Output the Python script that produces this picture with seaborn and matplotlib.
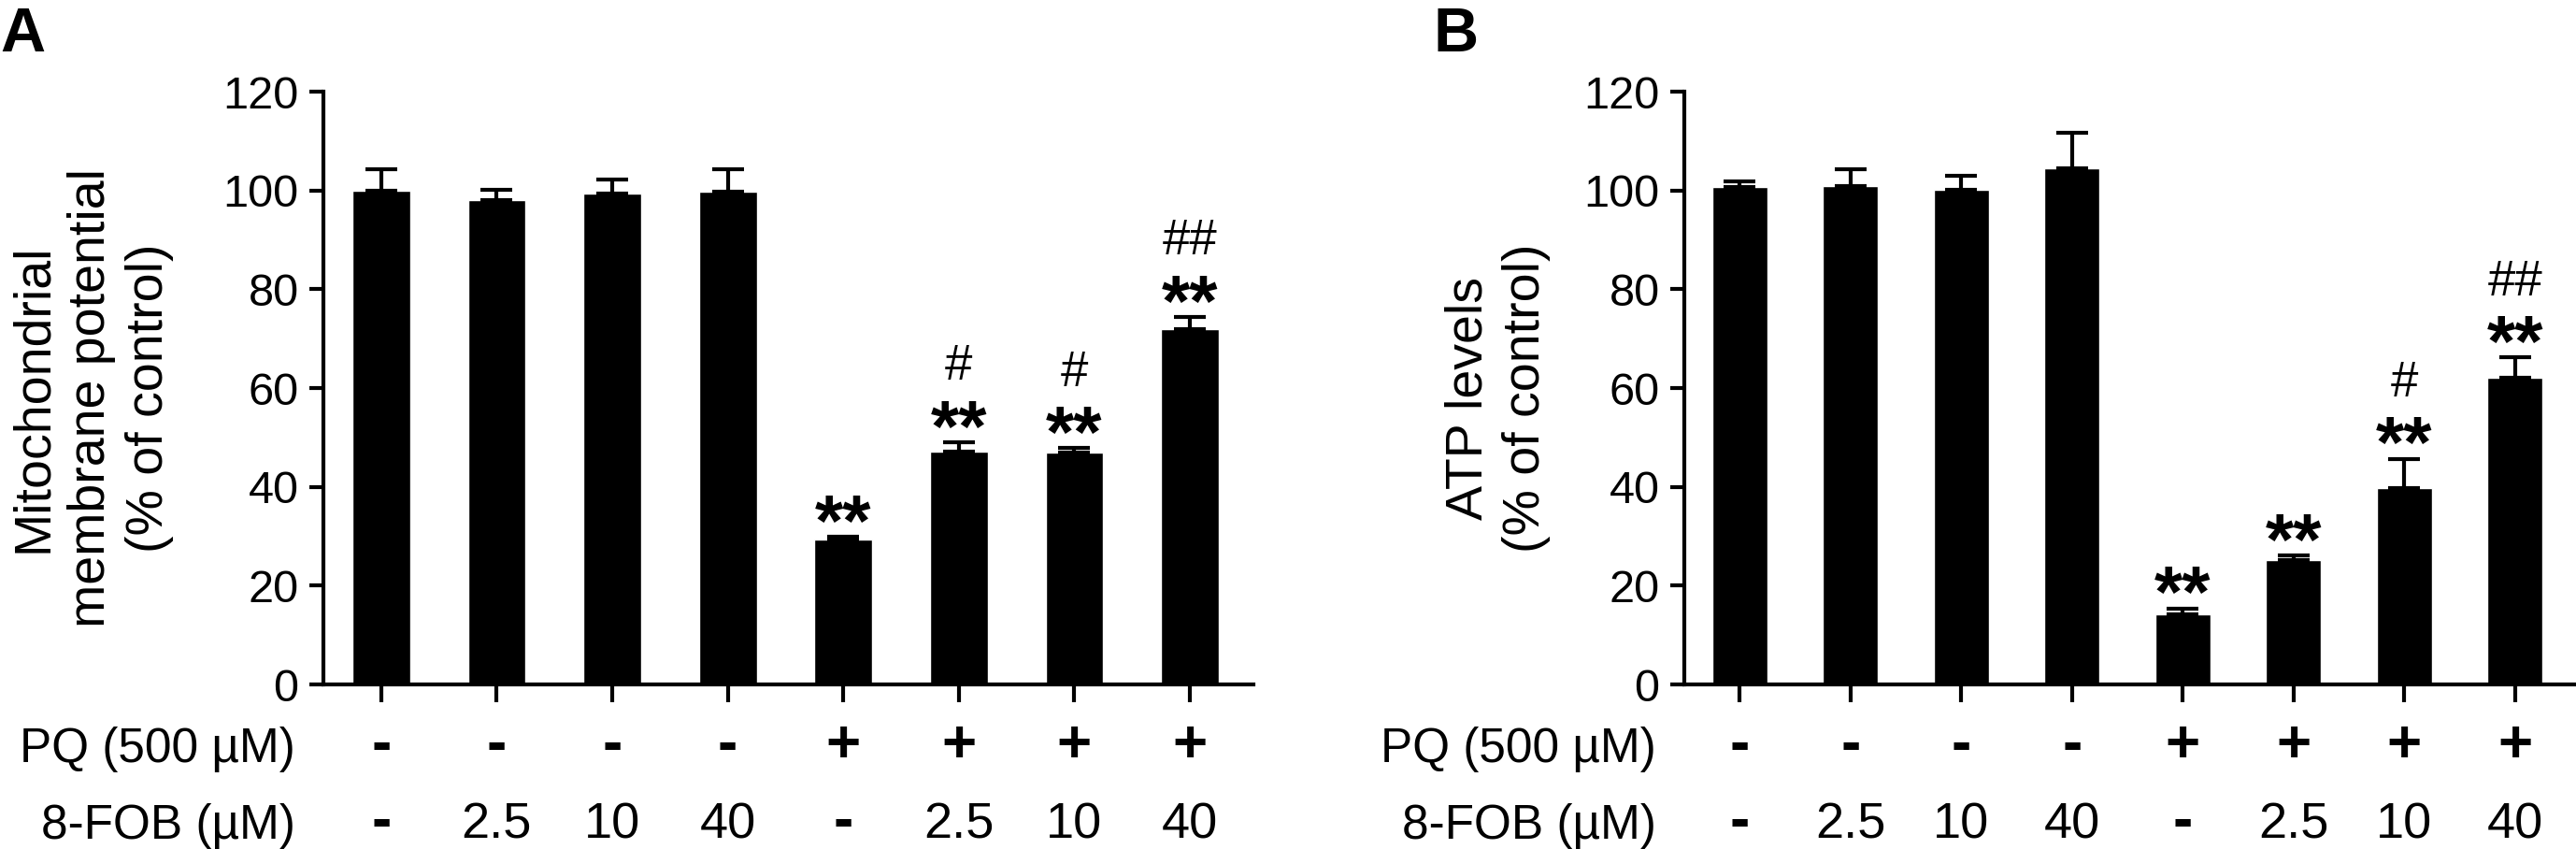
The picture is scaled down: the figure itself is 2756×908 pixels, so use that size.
import numpy as np
import pandas as pd
import matplotlib
matplotlib.use("Agg")
import matplotlib.pyplot as plt
import seaborn as sns

# group labels shown under the bars
pq_row = ["-", "-", "-", "-", "+", "+", "+", "+"]
fob_row = ["-", "2.5", "10", "40", "-", "2.5", "10", "40"]

# panel A: mitochondrial membrane potential (% of control)
mmp_mean = [99.9, 98.0, 99.3, 99.8, 29.3, 47.1, 46.9, 72.0]
mmp_sem = [4.4, 2.1, 2.9, 4.4, 0.6, 1.9, 0.9, 2.4]
mmp_stars = ["", "", "", "", "**", "**", "**", "**"]
mmp_hash = ["", "", "", "", "", "#", "#", "##"]

# panel B: ATP levels (% of control)
atp_mean = [100.6, 100.9, 100.1, 104.5, 14.2, 25.1, 39.7, 62.0]
atp_sem = [1.3, 3.4, 2.8, 7.2, 1.2, 1.0, 6.0, 4.2]
atp_stars = ["", "", "", "", "**", "**", "**", "**"]
atp_hash = ["", "", "", "", "", "", "#", "##"]

sns.set_style("ticks")
plt.rcParams["font.family"] = ["Liberation Sans", "DejaVu Sans"]
plt.rcParams["text.color"] = "black"
plt.rcParams["axes.labelcolor"] = "black"


def row_text(ax, i, y, s):
    # +/- signs are drawn heavier than the numbers
    if s in ("+", "-"):
        ax.text(i, y, s, transform=ax.get_xaxis_transform(), ha="center",
                va="baseline", fontsize=46, fontweight="bold")
    else:
        ax.text(i, y, s, transform=ax.get_xaxis_transform(), ha="center",
                va="baseline", fontsize=39)


def draw_panel(ax, means, sems, stars, hashes, ylabel, label_x):
    df = pd.DataFrame({"group": list(range(len(means))), "value": means})
    sns.barplot(data=df, x="group", y="value", color="black", saturation=1,
                width=0.5, errorbar=None, ax=ax)
    xs = np.arange(len(means))
    ax.errorbar(xs, means, yerr=[np.zeros(len(sems)), sems], fmt="none",
                ecolor="black", elinewidth=3, capsize=12, capthick=3)

    ax.set_ylim(0, 120)
    ax.set_yticks(range(0, 121, 20))
    ax.set_xlim(-0.5, 7.55)
    ax.set_xticks(xs)
    ax.set_xticklabels([])
    ax.set_xlabel("")
    ax.set_ylabel("")
    sns.despine(ax=ax)
    for s in ["left", "bottom"]:
        ax.spines[s].set_linewidth(3)
        ax.spines[s].set_color("black")
    ax.tick_params(axis="y", labelsize=35, length=11, width=3, pad=8,
                   colors="black", labelcolor="black")
    ax.tick_params(axis="x", length=14, width=3, colors="black")

    # significance marks above the error bars
    for i in range(len(means)):
        top = means[i] + sems[i]
        if stars[i]:
            ax.annotate(stars[i], (i, top), xytext=(0, -7), textcoords="offset points",
                        ha="center", va="baseline", fontsize=56, fontweight="bold")
        if hashes[i]:
            ax.annotate(hashes[i], (i, top), xytext=(0, 48), textcoords="offset points",
                        ha="center", va="baseline", fontsize=38)

    # treatment rows
    for i in range(len(means)):
        row_text(ax, i, -0.131, pq_row[i])
        row_text(ax, i, -0.260, fob_row[i])
    ax.annotate("PQ (500 µM)", (0, -0.131), xycoords="axes fraction", xytext=(-22, 0),
                textcoords="offset points", ha="right", va="baseline", fontsize=37)
    ax.annotate("8-FOB (µM)", (0, -0.260), xycoords="axes fraction", xytext=(-22, 0),
                textcoords="offset points", ha="right", va="baseline", fontsize=37)

    ax.text(label_x, 0.483, ylabel, transform=ax.transAxes, rotation=90,
            ha="center", va="center", fontsize=40, linespacing=1.25)


fig = plt.figure(figsize=(27.56, 9.08), dpi=100)
ax_a = fig.add_axes([346 / 2756, 1 - 732 / 908, 995 / 2756, 634 / 908])
ax_b = fig.add_axes([1802 / 2756, 1 - 732 / 908, 954 / 2756, 634 / 908])

draw_panel(ax_a, mmp_mean, mmp_sem, mmp_stars, mmp_hash,
           "Mitochondrial\nmembrane potential\n(% of control)", -0.249)
draw_panel(ax_b, atp_mean, atp_sem, atp_stars, atp_hash,
           "ATP levels\n(% of control)", -0.2096)

fig.text(0.0, 1 - 7 / 908, "A", ha="left", va="top", fontsize=48, fontweight="bold")
fig.text(1533 / 2756, 1 - 7 / 908, "B", ha="left", va="top", fontsize=48, fontweight="bold")

fig.savefig("out.png", dpi=100, facecolor="white")
